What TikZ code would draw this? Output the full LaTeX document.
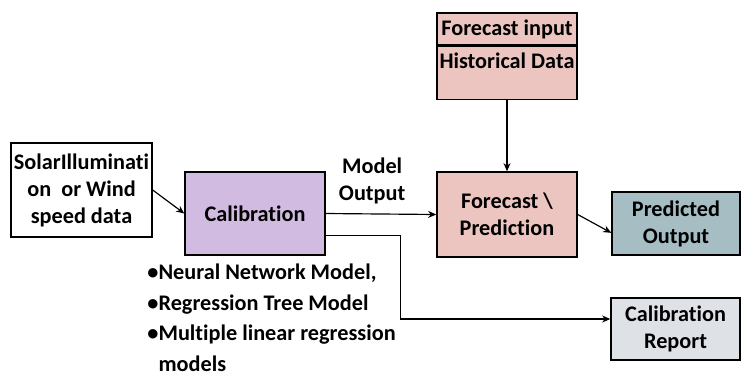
\documentclass[tikz,border=0pt]{standalone}
\usepackage{fontspec}
\setmainfont{Carlito}[Ligatures=CommonOff]
\usetikzlibrary{arrows.meta,positioning}

\definecolor{calibfill}{RGB}{210,187,224}
\definecolor{fcastfill}{RGB}{236,197,193}
\definecolor{predfill}{RGB}{165,189,195}
\definecolor{reportfill}{RGB}{222,226,231}

\begin{document}
\begin{tikzpicture}[
    x=1cm, y=1cm,
    >={Stealth[length=7pt,width=6pt]},
    every node/.style={font=\fontsize{19}{23}\selectfont\bfseries},
    mainbox/.style={
        draw,
        line width=1.2pt,
        align=center,
        inner sep=2pt
    },
    arr/.style={->, line width=1pt}
]
    \useasboundingbox (0,0) rectangle (22.26,-11.31);

    % Main path
    \node[
        mainbox,
        fill=white,
        minimum width=4.23cm,
        minimum height=2.82cm
    ] (input) at (2.445,-5.70) {SolarIlluminati\\on\ \ or Wind\\speed data};

    \node[
        mainbox,
        fill=calibfill,
        minimum width=4.2cm,
        minimum height=2.49cm
    ] (calib) at (7.65,-6.405) {Calibration};

    \node[
        mainbox,
        fill=fcastfill,
        minimum width=4.2cm,
        minimum height=2.55cm
    ] (fcast) at (15.21,-6.435) {Forecast \textbackslash\\Prediction};

    \node[
        mainbox,
        fill=predfill,
        minimum width=3.84cm,
        minimum height=1.89cm
    ] (pred) at (20.28,-6.705) {Predicted\\Output};

    \node[
        mainbox,
        fill=reportfill,
        minimum width=3.87cm,
        minimum height=1.86cm
    ] (report) at (20.265,-9.87) {Calibration\\Report};

    % Forecast input box
    \node[
        mainbox,
        fill=fcastfill,
        minimum width=4.2cm,
        minimum height=0.96cm
    ] (fcin) at (15.21,-0.87) {Forecast input};

    \node[
        mainbox,
        fill=fcastfill,
        minimum width=4.2cm,
        minimum height=1.59cm,
        text depth=0.75cm,
        below=0pt of fcin
    ] (hist) {Historical Data};

    % Models list
    \node[align=left, anchor=north west] (models) at (4.3,-7.8)
        {\textbullet Neural Network Model,\\[3pt]
         \textbullet Regression Tree Model\\[3pt]
         \textbullet Multiple linear regression\\[3pt]
         \hphantom{\textbullet}models};

    \draw[arr] (input.east) -- (calib.west);
    \draw[arr] (calib.east) -- node[above, align=center, pos=0.42, yshift=0.15cm] {Model\\Output} (fcast.west);
    \draw[arr] (hist.south) -- (fcast.north);
    \draw[arr] (fcast.east) -- ([yshift=-0.28cm]pred.west);
    \draw[arr] ([yshift=-0.65cm]calib.east) -- ++(2.25,0) |- ([yshift=0.3cm]report.west);

\end{tikzpicture}
\end{document}
